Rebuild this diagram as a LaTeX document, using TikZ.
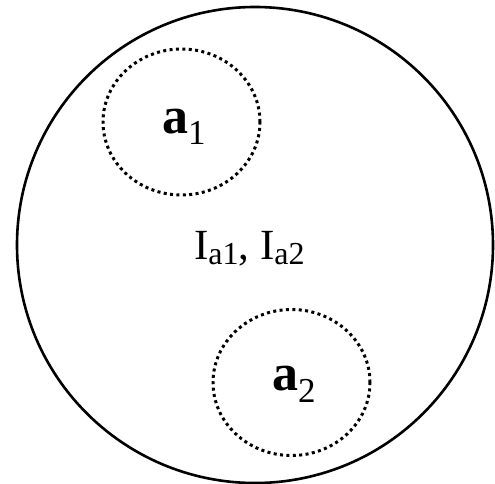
\documentclass[tikz,border=0pt]{standalone}
\usepackage{fontspec}
\setmainfont{Liberation Serif}
\usetikzlibrary{shapes.geometric}
\newcommand{\lowsub}[2]{\raisebox{-#1}{#2}}
\begin{document}
\begin{tikzpicture}[x=1pt, y=-1pt, line join=round,
    region/.style={draw, circle, line width=2.6pt, minimum size=476pt, inner sep=0pt},
    zone/.style={draw, ellipse, line width=3pt, dash pattern=on 3pt off 3.4pt,
      minimum width=157pt, minimum height=146pt, inner sep=0pt},
    lbl/.style={inner sep=0pt, outer sep=0pt, anchor=base west}]
  \useasboundingbox (0,0) rectangle (495,484);
  \node[region] (u) at (255,245) {};
  \node[zone] (z1) at (181.5,122) {};
  \node[zone] (z2) at (291.5,382.5) {};
  \node[lbl] (a1) at (162,133) {\fontsize{52}{56}\selectfont\bfseries a\lowsub{12pt}{\fontsize{35}{38}\selectfont\mdseries 1}};
  \node[lbl] (a2) at (272,390) {\fontsize{52}{56}\selectfont\bfseries a\lowsub{12pt}{\fontsize{35}{38}\selectfont\mdseries 2}};
  \node[lbl] (ia) at (194,259) {\fontsize{43}{46}\selectfont I\lowsub{5pt}{\fontsize{32}{34}\selectfont a1},
    I\lowsub{5pt}{\fontsize{32}{34}\selectfont a2}};
\end{tikzpicture}
\end{document}
